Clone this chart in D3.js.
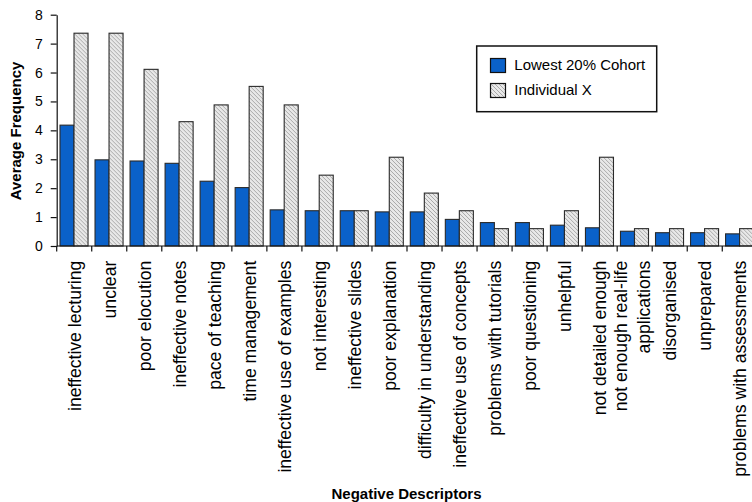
<!DOCTYPE html>
<html>
<head>
<meta charset="utf-8">
<script src="https://cdn.jsdelivr.net/npm/d3@7"></script>
<style>
  html, body { margin: 0; padding: 0; background: #fff; }
  svg { display: block; font-family: "Liberation Sans", Arial, Helvetica, sans-serif; }
</style>
</head>
<body>
<svg id="chart" width="752" height="502"></svg>
<script>
// Negative descriptor categories (multi-line labels split with "\n")
const categories = [
  "ineffective lecturing", "unclear", "poor elocution", "ineffective notes",
  "pace of teaching", "time management", "ineffective use of examples",
  "not interesting", "ineffective slides", "poor explanation",
  "difficulty in understanding", "ineffective use of concepts",
  "problems with tutorials", "poor questioning", "unhelpful",
  "not detailed enough", "not enough real-life\napplications", "disorganised",
  "unprepared", "problems with assessments"
];

const seriesNames = ["Lowest 20% Cohort", "Individual X"];

const cohortValues = [4.18, 2.98, 2.94, 2.86, 2.24, 2.02, 1.25, 1.22, 1.22, 1.18,
                      1.18, 0.92, 0.81, 0.81, 0.72, 0.63, 0.51, 0.46, 0.46, 0.42];

const individualValues = [7.36, 7.36, 6.11, 4.30, 4.88, 5.52, 4.88, 2.45, 1.22, 3.07,
                          1.83, 1.22, 0.60, 0.60, 1.22, 3.07, 0.60, 0.60, 0.60, 0.60];

const yTicks = [0, 1, 2, 3, 4, 5, 6, 7, 8];

const svg = d3.select("#chart");

// plot frame
const x0 = 56.7, x1 = 757.3, yBase = 246, yTop = 14.7;

const x = d3.scaleBand().domain(categories).range([x0, x1]).padding(0);
const xs = d3.scaleBand().domain(seriesNames)
  .range([3.3, x.bandwidth() - 3.7]).padding(0);
const y = d3.scaleLinear().domain([0, 8]).range([yBase, yTop]);

// hatch pattern for the individual series
const defs = svg.append("defs");
const pat = defs.append("pattern")
  .attr("id", "hatch")
  .attr("patternUnits", "userSpaceOnUse")
  .attr("width", 4).attr("height", 4);
pat.append("rect").attr("width", 4).attr("height", 4).attr("fill", "#e8e8e8");
pat.append("path")
  .attr("d", "M0,0L4,4M-1,3L1,5M3,-1L5,1")
  .attr("stroke", "#a9a9a9").attr("stroke-width", 1);

const fills = { "Lowest 20% Cohort": "#0a61c9", "Individual X": "url(#hatch)" };

const rows = categories.map((c, i) => ({
  cat: c,
  vals: [
    { s: seriesNames[0], v: cohortValues[i] },
    { s: seriesNames[1], v: individualValues[i] }
  ]
}));

// bars
const groups = svg.append("g").selectAll("g")
  .data(rows).join("g")
  .attr("transform", d => `translate(${x(d.cat)},0)`);

groups.selectAll("rect")
  .data(d => d.vals).join("rect")
  .attr("x", d => xs(d.s))
  .attr("y", d => y(d.v))
  .attr("width", xs.bandwidth())
  .attr("height", d => yBase - y(d.v))
  .attr("fill", d => fills[d.s])
  .attr("stroke", "#2a2a2a")
  .attr("stroke-width", 1.1);

// y axis
const yAxis = d3.axisLeft(y).tickValues(yTicks).tickFormat(d3.format("d"))
  .tickSize(6).tickPadding(8).tickSizeOuter(0);
const gy = svg.append("g").attr("transform", `translate(${x0},0)`).call(yAxis);
gy.select(".domain").attr("stroke", "#111").attr("stroke-width", 1.2);
gy.selectAll(".tick line").attr("stroke", "#111").attr("stroke-width", 1.2);
gy.selectAll(".tick text").attr("font-size", 14).attr("fill", "#000")
  .attr("font-family", "Liberation Sans, Arial, sans-serif");

// x axis: ticks between categories
const boundaries = categories.map(c => x(c)).concat([x1]);
const gx = svg.append("g");
gx.append("line")
  .attr("x1", x0).attr("x2", x1).attr("y1", yBase).attr("y2", yBase)
  .attr("stroke", "#111").attr("stroke-width", 1.2);
gx.selectAll("line.tk").data(boundaries).join("line")
  .attr("class", "tk")
  .attr("x1", d => d).attr("x2", d => d)
  .attr("y1", yBase).attr("y2", yBase + 5.5)
  .attr("stroke", "#111").attr("stroke-width", 1.2);

// rotated category labels
const labelSize = 17.6;
const lab = svg.append("g").selectAll("text")
  .data(categories).join("text")
  .attr("transform", d => `translate(${x(d) + x.bandwidth() / 2},260.7) rotate(-90)`)
  .attr("text-anchor", "end")
  .attr("font-size", labelSize)
  .attr("fill", "#000");
lab.each(function(d) {
  const lines = d.split("\n");
  const t = d3.select(this);
  if (lines.length === 1) {
    t.append("tspan").attr("x", 0).attr("y", 6.3).text(lines[0]);
  } else {
    const gap = 23;
    lines.forEach((ln, k) => {
      t.append("tspan").attr("x", 0)
        .attr("y", 3.3 + (k - (lines.length - 1) / 2) * gap)
        .text(ln);
    });
  }
});

// axis titles
svg.append("text")
  .attr("transform", "translate(20.6,131) rotate(-90)")
  .attr("text-anchor", "middle")
  .attr("font-size", 15).attr("font-weight", "bold")
  .text("Average Frequency");

svg.append("text")
  .attr("x", 406.5).attr("y", 499.3)
  .attr("text-anchor", "middle")
  .attr("font-size", 15).attr("font-weight", "bold")
  .text("Negative Descriptors");

// legend
const lg = svg.append("g");
lg.append("rect")
  .attr("x", 476.7).attr("y", 46).attr("width", 180).attr("height", 65.7)
  .attr("fill", "#fff").attr("stroke", "#111").attr("stroke-width", 1.5);
const li = lg.selectAll("g.item").data(seriesNames).join("g")
  .attr("class", "item")
  .attr("transform", (d, i) => `translate(0,${i * 25})`);
li.append("rect")
  .attr("x", 490.5).attr("y", 58.5).attr("width", 15).attr("height", 14)
  .attr("fill", d => fills[d]).attr("stroke", "#111").attr("stroke-width", 1.2);
li.append("text")
  .attr("x", 514.3).attr("y", 70.2)
  .attr("font-size", 15).attr("fill", "#000")
  .text(d => d);
</script>
</body>
</html>
